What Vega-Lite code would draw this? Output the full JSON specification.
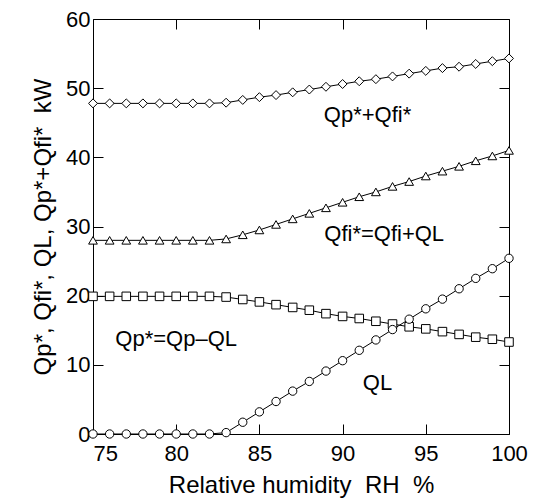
{
  "$schema": "https://vega.github.io/schema/vega-lite/v6.json",
  "width": 416,
  "height": 415,
  "autosize": {"type": "none"},
  "padding": {"left": 93, "top": 19, "right": 29, "bottom": 65},
  "background": "white",
  "config": {
    "view": {"stroke": null},
    "font": "Liberation Sans",
    "axis": {
      "labelFont": "Liberation Sans",
      "labelFontSize": 22,
      "labelColor": "black",
      "titleFont": "Liberation Sans",
      "titleFontSize": 24,
      "titleFontWeight": "normal",
      "titleColor": "black",
      "domainColor": "black",
      "domainWidth": 1,
      "tickColor": "black",
      "tickWidth": 1,
      "grid": false
    }
  },
  "datasets": {
    "curves": [
      {"rh": 75, "sum": 47.8, "fi": 28.0, "p": 19.9, "ql": 0},
      {"rh": 76, "sum": 47.8, "fi": 28.0, "p": 19.9, "ql": 0},
      {"rh": 77, "sum": 47.8, "fi": 28.0, "p": 19.9, "ql": 0},
      {"rh": 78, "sum": 47.8, "fi": 28.0, "p": 19.9, "ql": 0},
      {"rh": 79, "sum": 47.8, "fi": 28.0, "p": 19.9, "ql": 0},
      {"rh": 80, "sum": 47.8, "fi": 28.0, "p": 19.9, "ql": 0},
      {"rh": 81, "sum": 47.8, "fi": 28.0, "p": 19.9, "ql": 0},
      {"rh": 82, "sum": 47.8, "fi": 28.0, "p": 19.9, "ql": 0},
      {"rh": 83, "sum": 47.9, "fi": 28.2, "p": 19.8, "ql": 0.2},
      {"rh": 84, "sum": 48.3, "fi": 28.8, "p": 19.45, "ql": 1.7},
      {"rh": 85, "sum": 48.7, "fi": 29.5, "p": 19.1, "ql": 3.2},
      {"rh": 86, "sum": 49.0, "fi": 30.3, "p": 18.7, "ql": 4.7},
      {"rh": 87, "sum": 49.4, "fi": 31.1, "p": 18.3, "ql": 6.2},
      {"rh": 88, "sum": 49.8, "fi": 31.9, "p": 17.9, "ql": 7.6},
      {"rh": 89, "sum": 50.2, "fi": 32.7, "p": 17.4, "ql": 9.1},
      {"rh": 90, "sum": 50.6, "fi": 33.5, "p": 17.0, "ql": 10.6},
      {"rh": 91, "sum": 51.0, "fi": 34.3, "p": 16.7, "ql": 12.1},
      {"rh": 92, "sum": 51.3, "fi": 35.0, "p": 16.3, "ql": 13.6},
      {"rh": 93, "sum": 51.7, "fi": 35.8, "p": 15.9, "ql": 15.1},
      {"rh": 94, "sum": 52.1, "fi": 36.5, "p": 15.5, "ql": 16.6},
      {"rh": 95, "sum": 52.5, "fi": 37.3, "p": 15.2, "ql": 18.1},
      {"rh": 96, "sum": 52.9, "fi": 38.0, "p": 14.8, "ql": 19.5},
      {"rh": 97, "sum": 53.1, "fi": 38.7, "p": 14.4, "ql": 21.0},
      {"rh": 98, "sum": 53.5, "fi": 39.5, "p": 14.0, "ql": 22.5},
      {"rh": 99, "sum": 53.9, "fi": 40.2, "p": 13.7, "ql": 23.9},
      {"rh": 100, "sum": 54.3, "fi": 41.0, "p": 13.3, "ql": 25.4}
    ],
    "notes": [
      {"x": 91.5, "y": 46.1, "t": "Qp*+Qfi*"},
      {"x": 92.5, "y": 28.9, "t": "Qfi*=Qfi+QL"},
      {"x": 80.0, "y": 13.8, "t": "Qp*=Qp–QL"},
      {"x": 92.1, "y": 7.4, "t": "QL"}
    ]
  },
  "layer": [
    {
      "data": {"name": "curves"},
      "transform": [{"fold": ["sum", "fi", "p", "ql"], "as": ["series", "v"]}],
      "encoding": {
        "x": {
          "field": "rh", "type": "quantitative",
          "scale": {"domain": [75, 100], "nice": false, "zero": false},
          "axis": {
            "orient": "bottom",
            "values": [75, 80, 85, 90, 95, 100],
            "tickSize": -10,
            "labelPadding": 19,
            "labelAlign": {"condition": {"test": "datum.value == 75", "value": "left"}, "value": "center"},
            "title": "Relative humidity\u00a0\u00a0RH\u00a0\u00a0%",
            "titlePadding": 9
          }
        },
        "y": {
          "field": "v", "type": "quantitative",
          "scale": {"domain": [0, 60], "nice": false, "zero": false},
          "axis": {
            "orient": "left",
            "values": [0, 10, 20, 30, 40, 50, 60],
            "tickSize": -10,
            "labelPadding": 13,
            "title": "Qp*, Qfi*, QL, Qp*+Qfi*\u00a0\u00a0kW",
            "titlePadding": 10
          }
        }
      },
      "layer": [
        {
          "mark": {"type": "line", "color": "black", "strokeWidth": 1},
          "encoding": {"detail": {"field": "series", "type": "nominal"}}
        },
        {
          "mark": {"type": "point", "filled": true, "fill": "white", "stroke": "black", "strokeWidth": 1, "opacity": 1},
          "encoding": {
            "shape": {
              "field": "series", "type": "nominal",
              "scale": {"domain": ["sum", "fi", "p", "ql"], "range": ["diamond", "triangle-up", "square", "circle"]},
              "legend": null
            },
            "size": {
              "field": "series", "type": "nominal",
              "scale": {"domain": ["sum", "fi", "p", "ql"], "range": [80, 70, 55, 140]},
              "legend": null
            }
          }
        }
      ]
    },
    {
      "data": {"name": "notes"},
      "mark": {"type": "text", "fontSize": 22, "font": "Liberation Sans", "color": "black", "align": "center", "baseline": "middle"},
      "encoding": {
        "x": {"field": "x", "type": "quantitative", "scale": {"domain": [75, 100], "nice": false, "zero": false}, "axis": null},
        "y": {"field": "y", "type": "quantitative", "scale": {"domain": [0, 60], "nice": false, "zero": false}, "axis": null},
        "text": {"field": "t", "type": "nominal"}
      }
    },
    {
      "data": {"name": "curves"},
      "mark": {"type": "point", "opacity": 0},
      "encoding": {
        "x": {
          "field": "rh", "type": "quantitative",
          "scale": {"domain": [75, 100], "nice": false, "zero": false},
          "axis": {"orient": "top", "values": [75, 80, 85, 90, 95, 100], "tickSize": -10, "labels": false, "title": null}
        },
        "y": {
          "field": "sum", "type": "quantitative",
          "scale": {"domain": [0, 60], "nice": false, "zero": false},
          "axis": {"orient": "right", "values": [0, 10, 20, 30, 40, 50, 60], "tickSize": -10, "labels": false, "title": null}
        }
      }
    }
  ],
  "resolve": {"axis": {"x": "independent", "y": "independent"}}
}
